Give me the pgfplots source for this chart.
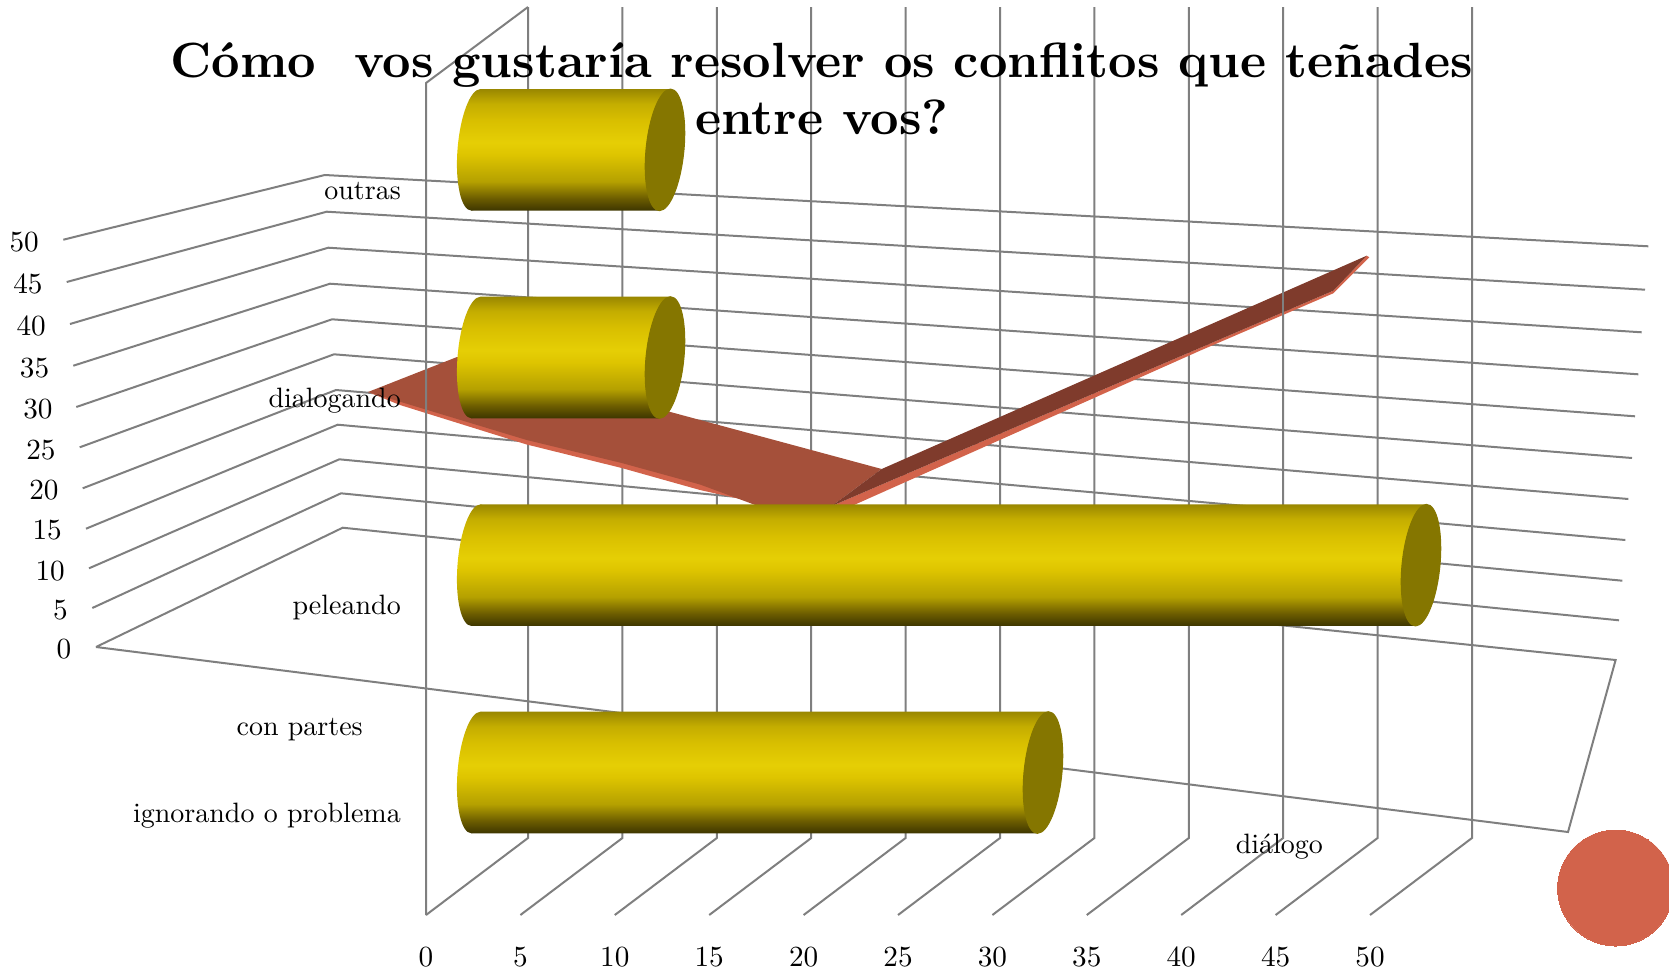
\documentclass[border=0pt]{standalone}
\usepackage{pgfplots}
\pgfplotsset{compat=1.18}
\definecolor{gridg}{HTML}{7F7F7F}
\definecolor{rmain}{HTML}{A5503A}
\definecolor{rlight}{HTML}{D2634B}
\definecolor{rdark}{HTML}{7F3B2C}
\definecolor{capc}{HTML}{857600}
\pgfdeclareverticalshading{cyl}{100bp}{
 rgb(0bp)=(0.24,0.21,0.0);
 rgb(25bp)=(0.24,0.21,0.0);
 rgb(30bp)=(0.42,0.36,0.0);
 rgb(37bp)=(0.71,0.63,0.0);
 rgb(48bp)=(0.87,0.77,0.0);
 rgb(53bp)=(0.90,0.81,0.02);
 rgb(62bp)=(0.85,0.75,0.0);
 rgb(69bp)=(0.77,0.68,0.0);
 rgb(75bp)=(0.60,0.53,0.0);
 rgb(100bp)=(0.60,0.53,0.0)}
\pgfdeclareplotmark{capL}{%
 \pgfpathellipse{\pgfpointorigin}{\pgfqpoint{18.5pt}{0pt}}{\pgfqpoint{4.5pt}{60.8pt}}%
 \pgfshadepath{cyl}{0}\pgfusepath{discard}}
\pgfdeclareplotmark{capR}{%
 \pgfpathellipse{\pgfpointorigin}{\pgfqpoint{19pt}{0pt}}{\pgfqpoint{5.5pt}{60.8pt}}%
 \pgfsetfillcolor{capc}\pgfsetstrokecolor{capc}\pgfsetlinewidth{1pt}\pgfusepath{fill,stroke}}
\newcommand{\tx}[1]{\scalebox{2.8}{#1}}
\newcommand{\td}[1]{\scalebox{2.92}{#1}}
\pgfplotsset{gl/.style={draw=gridg,line width=2pt,mark=none}}
\tikzset{tl/.style={inner sep=0pt,yshift=-1pt}}
\begin{document}
\begin{tikzpicture}
\useasboundingbox (0pt,0pt) rectangle (1669pt,972pt);
\clip (0pt,0pt) rectangle (1669pt,972pt);
\pgfplotsset{every axis/.append style={
  at={(0pt,0pt)},anchor=south west,
  scale only axis,width=1669pt,height=972pt,hide axis,
  ymin=0,ymax=972,y dir=reverse}}
% frame, ribbon and labels: picture coordinates
\begin{axis}[xmin=0,xmax=1669]
% floor
\addplot[gl] coordinates {(96,647)(342.7,527.7)(1615.6,660)(1568,832)(96,647)};
% side and back walls
\addplot[gl] coordinates {(92.3,608)(341,493.3)(1619,620.3)};
\addplot[gl] coordinates {(89,568.3)(339.3,459.3)(1622.3,580.7)};
\addplot[gl] coordinates {(86,528.7)(337.7,424.7)(1625.3,540)};
\addplot[gl] coordinates {(82.7,488.3)(336,390)(1628.3,499)};
\addplot[gl] coordinates {(79.7,447.3)(334,354.3)(1632,458)};
\addplot[gl] coordinates {(76.3,407)(332,319.3)(1635,416.3)};
\addplot[gl] coordinates {(73.3,365.7)(330,283.7)(1638.3,374.3)};
\addplot[gl] coordinates {(70,324)(328.3,247.7)(1641.7,332.3)};
\addplot[gl] coordinates {(66.7,282)(326.7,211.7)(1645,289.7)};
\addplot[gl] coordinates {(63.3,239.7)(324.7,175)(1648.3,246.3)};
% verticals
\addplot[gl] coordinates {(528,7)(528,838)(426,915)};
\addplot[gl] coordinates {(520.4,915)(622.4,838)(622.4,7)};
\addplot[gl] coordinates {(614.8,915)(716.8,838)(716.8,7)};
\addplot[gl] coordinates {(709.2,915)(811.2,838)(811.2,7)};
\addplot[gl] coordinates {(803.6,915)(905.6,838)(905.6,7)};
\addplot[gl] coordinates {(898,915)(1000,838)(1000,7)};
\addplot[gl] coordinates {(992.4,915)(1094.4,838)(1094.4,7)};
\addplot[gl] coordinates {(1086.8,915)(1188.8,838)(1188.8,7)};
\addplot[gl] coordinates {(1181.2,915)(1283.2,838)(1283.2,7)};
\addplot[gl] coordinates {(1275.6,915)(1377.6,838)(1377.6,7)};
\addplot[gl] coordinates {(1370,915)(1472,838)(1472,7)};
% ribbon
\addplot[draw=none,fill=rlight,mark=none] coordinates {(368,392)(400,405)(526.7,444.5)(621.7,468)(700,490)(771.7,506)(758,495)(526.7,430)} --cycle;
\addplot[draw=none,fill=rmain,mark=none] coordinates {(368,392)(457,357)(500,366)(881.7,469)(831.7,506)(758,506)(700,484.5)(621.7,463)(526.7,440)(400,401.7)} --cycle;
\addplot[draw=none,fill=rlight,mark=none] coordinates {(851.7,506)(1200,350.7)(1333.3,293.3)(1369.3,257.3)(1366.7,255.7)(1333.3,290.7)(831.7,506)} --cycle;
\addplot[draw=none,fill=rdark,mark=none] coordinates {(831.7,506)(881.7,469)(1366.7,255.7)(1333.3,290.7)} --cycle;
% front wall edge, and the line that shows through the band
\addplot[gl] coordinates {(426,915)(426,83)(528,7)};
\addplot[gl] coordinates {(1283.2,320)(1283.2,285)};
% corner disc
\addplot[draw=none,only marks,mark=*,mark size=58pt,mark options={draw=rlight,fill=rlight,line width=0pt}] coordinates {(1615.6,888)};
% labels
\node[anchor=base east,tl] at (axis cs:401,198) {\tx{outras}};
\node[anchor=base east,tl] at (axis cs:401,406) {\tx{dialogando}};
\node[anchor=base east,tl] at (axis cs:401,613) {\tx{peleando}};
\node[anchor=base east,tl] at (axis cs:363,734.5) {\tx{con partes}};
\node[anchor=base east,tl] at (axis cs:401,821) {\tx{ignorando o problema}};
\node[anchor=base,tl] at (axis cs:1279.4,852.7) {\tx{diálogo}};
\node[anchor=base east,tl] at (axis cs:39,250) {\td{50}};
\node[anchor=base east,tl] at (axis cs:42.7,292) {\td{45}};
\node[anchor=base east,tl] at (axis cs:46,334) {\td{40}};
\node[anchor=base east,tl] at (axis cs:49.3,376.7) {\td{35}};
\node[anchor=base east,tl] at (axis cs:52.7,417) {\td{30}};
\node[anchor=base east,tl] at (axis cs:55.7,458) {\td{25}};
\node[anchor=base east,tl] at (axis cs:58.7,498) {\td{20}};
\node[anchor=base east,tl] at (axis cs:62,538) {\td{15}};
\node[anchor=base east,tl] at (axis cs:65,579) {\td{10}};
\node[anchor=base east,tl] at (axis cs:68,618) {\td{5}};
\node[anchor=base east,tl] at (axis cs:71.3,657) {\td{0}};
\node[anchor=base,tl] at (axis cs:426,965) {\td{0}};
\node[anchor=base,tl] at (axis cs:520.4,965) {\td{5}};
\node[anchor=base,tl] at (axis cs:614.8,965) {\td{10}};
\node[anchor=base,tl] at (axis cs:709.2,965) {\td{15}};
\node[anchor=base,tl] at (axis cs:803.6,965) {\td{20}};
\node[anchor=base,tl] at (axis cs:898,965) {\td{25}};
\node[anchor=base,tl] at (axis cs:992.4,965) {\td{30}};
\node[anchor=base,tl] at (axis cs:1086.8,965) {\td{35}};
\node[anchor=base,tl] at (axis cs:1181.2,965) {\td{40}};
\node[anchor=base,tl] at (axis cs:1275.6,965) {\td{45}};
\node[anchor=base,tl] at (axis cs:1370,965) {\td{50}};
\end{axis}
% cylinders: x is the value, 0 to 50
\begin{axis}[xmin=-25.185,xmax=63.122,
  title={\scalebox{4.95}{\bfseries Cómo\ \ vos gustaría resolver os conf{}litos que teñades}\\\scalebox{4.95}{\bfseries entre vos?}},
  title style={at={(axis description cs:0.4925,0.954)},anchor=north,align=center,
    font=\fontsize{10}{57}\selectfont}]
% outras
\addplot[draw=none,shade,shading=cyl] coordinates {(0.24,89.05)(10.29,89.05)(9.71,210.65)(-0.24,210.65)} --cycle;
\addplot[only marks,mark=capL] coordinates {(0,149.85)};
\addplot[only marks,mark=capR] coordinates {(10,149.85)};
% dialogando
\addplot[draw=none,shade,shading=cyl] coordinates {(0.24,296.7)(10.29,296.7)(9.71,418.3)(-0.24,418.3)} --cycle;
\addplot[only marks,mark=capL] coordinates {(0,357.5)};
\addplot[only marks,mark=capR] coordinates {(10,357.5)};
% peleando
\addplot[draw=none,shade,shading=cyl] coordinates {(0.24,504.35)(50.29,504.35)(49.71,625.95)(-0.24,625.95)} --cycle;
\addplot[only marks,mark=capL] coordinates {(0,565.15)};
\addplot[only marks,mark=capR] coordinates {(50,565.15)};
% ignorando o problema
\addplot[draw=none,shade,shading=cyl] coordinates {(0.24,711.7)(30.29,711.7)(29.71,833.3)(-0.24,833.3)} --cycle;
\addplot[only marks,mark=capL] coordinates {(0,772.5)};
\addplot[only marks,mark=capR] coordinates {(30,772.5)};
\end{axis}
\end{tikzpicture}
\end{document}
